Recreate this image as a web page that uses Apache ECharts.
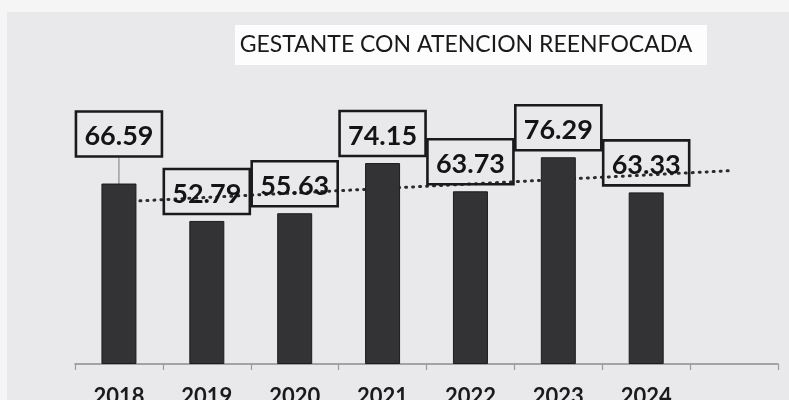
<!DOCTYPE html>
<html>
<head>
<meta charset="utf-8">
<script src="https://cdn.jsdelivr.net/npm/echarts@6/dist/echarts.min.js"></script>
<style>
    html, body {
        margin: 0;
        padding: 0;
        background: #f5f5f6;
    }

    #chart {
        width: 789px;
        height: 400px;
    }
</style>
</head>
<body>
<div id="chart"></div>
<script>
// datos
const years = ['2018', '2019', '2020', '2021', '2022', '2023', '2024', '']
const values = [66.59, 52.79, 55.63, 74.15, 63.73, 76.29, 63.33]
// linea de tendencia (extremos)
const trendX = [0, 7]
const trendY = [59.8, 71.4]

let myChart = echarts.init(document.getElementById('chart'))

myChart.setOption({
    backgroundColor: '#f5f5f6',
    animation: false,
    title: {
        text: 'GESTANTE CON ATENCION REENFOCADA',
        left: 466,
        top: 33,
        textAlign: 'center',
        padding: 0,
        textStyle: {
            fontFamily: 'Lato',
            fontWeight: 'normal',
            fontSize: 23,
            color: '#1a1a1a'
        }
    },
    graphic: [
        {
            type: 'rect',
            z: -10,
            shape: { x: 7, y: 12, width: 782, height: 388 },
            style: { fill: '#e9e9eb' }
        },
        {
            type: 'rect',
            z: -9,
            shape: { x: 235, y: 25, width: 472, height: 40 },
            style: { fill: '#fdfdfd' }
        }
    ],
    grid: {
        left: 75,
        right: 11,
        top: 93,
        bottom: 36,
        containLabel: false,
        outerBoundsMode: 'none'
    },
    xAxis: {
        type: 'category',
        data: years,
        boundaryGap: true,
        axisLine: {
            lineStyle: { color: '#8c8c8c', width: 1.5 }
        },
        axisTick: {
            show: true,
            length: 6,
            lineStyle: { color: '#9a9a9a', width: 1.2 }
        },
        axisLabel: {
            margin: 22,
            fontFamily: 'Lato',
            fontWeight: 'bold',
            fontSize: 22,
            color: '#1a1a1a'
        }
    },
    yAxis: {
        type: 'value',
        min: 0,
        max: 100,
        show: false,
        splitLine: { show: false }
    },
    series: [
        {
            // tendencia lineal punteada
            type: 'line',
            z: 1,
            symbol: 'none',
            silent: true,
            data: trendX.map((x, i) => [x, trendY[i]]),
            lineStyle: {
                color: '#2b2b2b',
                width: 3,
                type: [1, 6],
                cap: 'round'
            }
        },
        {
            type: 'bar',
            z: 3,
            barWidth: 35,
            data: values.map((v, i) => i === 0 ? { value: v, labelLine: { show: true } } : v),
            itemStyle: {
                color: '#333335',
                borderColor: '#1c1c1c',
                borderWidth: 1
            },
            label: {
                show: true,
                position: 'top',
                distance: 7,
                fontFamily: 'Lato',
                fontWeight: 'bold',
                fontSize: 27,
                lineHeight: 32,
                color: '#141414',
                width: 86,
                align: 'center',
                padding: [9, 0, 4, 0],
                backgroundColor: 'transparent',
                borderColor: '#1a1a1a',
                borderWidth: 1.3,
                formatter: function (p) {
                    return p.value.toFixed(2)
                }
            },
            labelLine: {
                show: false,
                lineStyle: { color: '#7a7a7a', width: 1 }
            },
            labelLayout: function (p) {
                if (p.dataIndex === 0) {
                    return { dy: -20 }
                }
                return {}
            }
        }
    ]
})
</script>
</body>
</html>
